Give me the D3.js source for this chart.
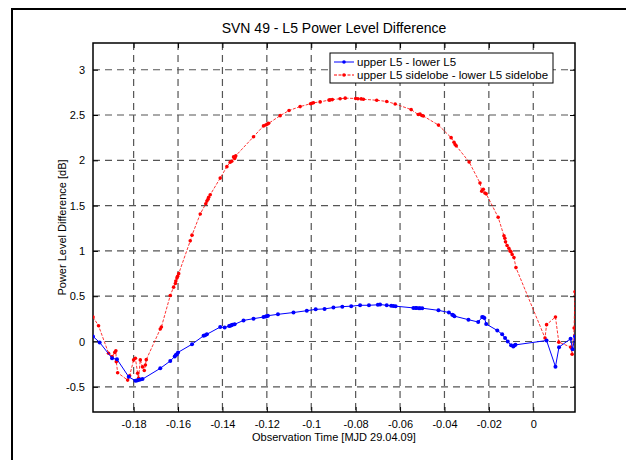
<!DOCTYPE html>
<html>
<head>
<meta charset="utf-8">
<script src="https://cdn.jsdelivr.net/npm/d3@7"></script>
<style>
  body { margin: 0; background: #fff; }
  text { font-family: "Liberation Sans", Arial, sans-serif; fill: #000; }
</style>
</head>
<body>
<div id="container"></div>
<script>
const width = 626;
const height = 460;

// upper L5 - lower L5
const blueX = [-0.1983, -0.1953, -0.1897, -0.1875, -0.1822, -0.1792, -0.1785, -0.1778, -0.1770, -0.1760,
  -0.1680, -0.1635, -0.1615, -0.1610, -0.1605, -0.1600, -0.1537, -0.1485, -0.1478, -0.1470,
  -0.1410, -0.1390, -0.1370, -0.1365, -0.1360, -0.1355, -0.1345, -0.1305, -0.1260, -0.1215,
  -0.1205, -0.1200, -0.1195, -0.1150, -0.1080, -0.1020, -0.0980, -0.0940, -0.0900, -0.0860,
  -0.0820, -0.0780, -0.0740, -0.0700, -0.0690, -0.0660, -0.0640, -0.0630, -0.0620, -0.0540,
  -0.0530, -0.0525, -0.0515, -0.0510, -0.0500, -0.0427, -0.0380, -0.0365, -0.0360, -0.0355,
  -0.0292, -0.0248, -0.0230, -0.0225, -0.0220, -0.0212, -0.0162, -0.0140, -0.0127, -0.0115,
  -0.0100, -0.0090, -0.0085, -0.0080, 0.0060, 0.0100, 0.0116, 0.0168, 0.0177, 0.0188];
const blueY = [0.056, -0.01, -0.185, -0.196, -0.39, -0.433, -0.43, -0.425, -0.42, -0.415,
  -0.296, -0.215, -0.165, -0.15, -0.14, -0.12, -0.03, 0.063, 0.07, 0.08,
  0.16, 0.155, 0.17, 0.175, 0.18, 0.185, 0.19, 0.233, 0.252, 0.27,
  0.275, 0.28, 0.285, 0.3, 0.32, 0.34, 0.355, 0.36, 0.375, 0.385,
  0.39, 0.4, 0.4, 0.405, 0.408, 0.4, 0.395, 0.393, 0.39, 0.371,
  0.37, 0.37, 0.368, 0.367, 0.368, 0.344, 0.32, 0.295, 0.289, 0.28,
  0.241, 0.215, 0.27, 0.267, 0.26, 0.193, 0.122, 0.08, 0.038, 0.0,
  -0.04, -0.055, -0.045, -0.037, 0.011, -0.278, -0.062, 0.03, -0.085, 0.056];

// upper L5 sidelobe - lower L5 sidelobe
const redX = [-0.1983, -0.1958, -0.1913, -0.1897, -0.1885, -0.1880, -0.1878, -0.1872, -0.1827, -0.1818,
  -0.1800, -0.1792, -0.1782, -0.1778, -0.1770, -0.1760, -0.1752, -0.1747, -0.1743, -0.1680,
  -0.1675, -0.1635, -0.1620, -0.1612, -0.1610, -0.1605, -0.1602, -0.1597, -0.1545, -0.1537,
  -0.1500, -0.1475, -0.1470, -0.1465, -0.1462, -0.1455, -0.1410, -0.1380, -0.1365, -0.1358,
  -0.1350, -0.1345, -0.1342, -0.1340, -0.1260, -0.1215, -0.1205, -0.1198, -0.1192, -0.1140,
  -0.1100, -0.1050, -0.1003, -0.0997, -0.0990, -0.0960, -0.0920, -0.0915, -0.0905, -0.0870,
  -0.0847, -0.0800, -0.0790, -0.0775, -0.0765, -0.0705, -0.0660, -0.0622, -0.0550, -0.0518,
  -0.0510, -0.0502, -0.0495, -0.0427, -0.0370, -0.0357, -0.0352, -0.0347, -0.0289, -0.0240,
  -0.0232, -0.0225, -0.0218, -0.0212, -0.0158, -0.0132, -0.0128, -0.0125, -0.0118, -0.0110,
  -0.0105, -0.0100, -0.0095, -0.0087, -0.0078, 0.0053, 0.0060, 0.0100, 0.0115, 0.0169,
  0.0175, 0.0184, 0.0188];
const redY = [0.271, 0.174, -0.129, -0.167, -0.12, -0.103, -0.222, -0.344, -0.426, -0.378,
  -0.203, -0.185, -0.351, -0.407, -0.203, -0.28, -0.32, -0.259, -0.2, 0.138,
  0.16, 0.508, 0.6, 0.64, 0.667, 0.7, 0.72, 0.749, 1.111, 1.174,
  1.408, 1.52, 1.55, 1.57, 1.593, 1.62, 1.804, 1.93, 1.98, 1.99,
  2.038, 2.02, 2.04, 2.05, 2.26, 2.38, 2.39, 2.4, 2.408, 2.493,
  2.55, 2.593, 2.625, 2.63, 2.635, 2.645, 2.665, 2.667, 2.67, 2.68,
  2.686, 2.683, 2.68, 2.678, 2.674, 2.663, 2.65, 2.622, 2.56, 2.505,
  2.51, 2.495, 2.489, 2.389, 2.25, 2.2, 2.174, 2.16, 1.982, 1.75,
  1.66, 1.68, 1.64, 1.63, 1.371, 1.167, 1.14, 1.1, 1.06, 1.03,
  1.0, 0.99, 0.96, 0.927, 0.816, 0.038, 0.186, 0.271, -0.007, -0.062,
  -0.14, 0.149, 0.55];

const xTicks = [-0.18, -0.16, -0.14, -0.12, -0.1, -0.08, -0.06, -0.04, -0.02, 0];
const yTicks = [-0.5, 0, 0.5, 1, 1.5, 2, 2.5, 3];
const seriesNames = ['upper L5 - lower L5', 'upper L5 sidelobe - lower L5 sidelobe'];

const axLeft = 93, axRight = 575, axTop = 43, axBottom = 412;

const x = d3.scaleLinear().domain([-0.1983, 0.0188]).range([axLeft, axRight]);
const y = d3.scaleLinear().domain([-0.778, 3.295]).range([axBottom, axTop]);

const svg = d3.select('#container').append('svg')
  .attr('width', width)
  .attr('height', height);

// figure border
svg.append('rect')
  .attr('x', 12).attr('y', 9)
  .attr('width', 640).attr('height', 480)
  .attr('fill', 'none').attr('stroke', '#000').attr('stroke-width', 2);

// title
svg.append('text')
  .attr('x', (axLeft + axRight) / 2).attr('y', 33)
  .attr('text-anchor', 'middle')
  .style('font-size', '14px')
  .text('SVN 49 - L5 Power Level Difference');

// grid
const grid = svg.append('g')
  .attr('stroke', '#555')
  .attr('stroke-width', 1.2)
  .attr('stroke-dasharray', '7,5');
grid.selectAll('line.v').data(xTicks).join('line')
  .attr('class', 'v')
  .attr('x1', d => x(d)).attr('x2', d => x(d))
  .attr('y1', axTop).attr('y2', axBottom);
grid.selectAll('line.h').data(yTicks).join('line')
  .attr('class', 'h')
  .attr('y1', d => y(d)).attr('y2', d => y(d))
  .attr('x1', axLeft).attr('x2', axRight);

// axes with inward ticks
const fmt = d => d3.format('~g')(d).replace('−', '-');
const xAxis = svg.append('g')
  .attr('transform', `translate(0,${axBottom})`)
  .call(d3.axisBottom(x).tickValues(xTicks).tickSize(-5).tickPadding(8).tickFormat(fmt));
const xAxisTop = svg.append('g')
  .attr('transform', `translate(0,${axTop})`)
  .call(d3.axisTop(x).tickValues(xTicks).tickSize(-5).tickFormat(''));
const yAxis = svg.append('g')
  .attr('transform', `translate(${axLeft},0)`)
  .call(d3.axisLeft(y).tickValues(yTicks).tickSize(-5).tickPadding(8).tickFormat(fmt));
const yAxisRight = svg.append('g')
  .attr('transform', `translate(${axRight},0)`)
  .call(d3.axisRight(y).tickValues(yTicks).tickSize(-5).tickFormat(''));

[xAxis, xAxisTop, yAxis, yAxisRight].forEach(a => {
  a.select('.domain').remove();
  a.selectAll('line').attr('stroke', '#000');
  a.selectAll('text').style('font-size', '11px').style('font-family', '"Liberation Sans", Arial, sans-serif');
});

// axes box
svg.append('rect')
  .attr('x', axLeft).attr('y', axTop)
  .attr('width', axRight - axLeft).attr('height', axBottom - axTop)
  .attr('fill', 'none').attr('stroke', '#000').attr('stroke-width', 1.5);

// axis labels
svg.append('text')
  .attr('x', (axLeft + axRight) / 2).attr('y', 441)
  .attr('text-anchor', 'middle')
  .style('font-size', '11px')
  .text('Observation Time [MJD 29.04.09]');
svg.append('text')
  .attr('transform', `translate(66,${(axTop + axBottom) / 2}) rotate(-90)`)
  .attr('text-anchor', 'middle')
  .style('font-size', '11px')
  .text('Power Level Difference [dB]');

// data
svg.append('clipPath').attr('id', 'clip')
  .append('rect').attr('x', axLeft).attr('y', axTop)
  .attr('width', axRight - axLeft).attr('height', axBottom - axTop);

const plot = svg.append('g').attr('clip-path', 'url(#clip)');

const blue = blueX.map((d, i) => [d, blueY[i]]);
const red = redX.map((d, i) => [d, redY[i]]);
const line = d3.line().x(d => x(d[0])).y(d => y(d[1]));

plot.append('path')
  .attr('d', line(red))
  .attr('fill', 'none').attr('stroke', '#ff0000').attr('stroke-width', 0.8)
  .attr('stroke-dasharray', '3,1.5');
plot.selectAll('circle.red').data(red).join('circle')
  .attr('class', 'red')
  .attr('cx', d => x(d[0])).attr('cy', d => y(d[1]))
  .attr('r', 1.8).attr('fill', '#ff0000');

plot.append('path')
  .attr('d', line(blue))
  .attr('fill', 'none').attr('stroke', '#0000ff').attr('stroke-width', 1);
plot.selectAll('circle.blue').data(blue).join('circle')
  .attr('class', 'blue')
  .attr('cx', d => x(d[0])).attr('cy', d => y(d[1]))
  .attr('r', 2).attr('fill', '#0000ff');

// legend
const legend = svg.append('g');
legend.append('rect')
  .attr('x', 330).attr('y', 53).attr('width', 223).attr('height', 30)
  .attr('fill', '#fff').attr('stroke', '#000').attr('stroke-width', 1);
const entries = [
  { name: seriesNames[0], color: '#0000ff', dash: null, y: 62 },
  { name: seriesNames[1], color: '#ff0000', dash: '3,1.5', y: 75 }
];
entries.forEach(e => {
  legend.append('line')
    .attr('x1', 334).attr('x2', 354).attr('y1', e.y).attr('y2', e.y)
    .attr('stroke', e.color).attr('stroke-width', 1)
    .attr('stroke-dasharray', e.dash);
  legend.append('circle')
    .attr('cx', 344).attr('cy', e.y).attr('r', 1.8).attr('fill', e.color);
  legend.append('text')
    .attr('x', 357).attr('y', e.y + 4)
    .style('font-size', '11.5px')
    .text(e.name);
});
</script>
</body>
</html>
